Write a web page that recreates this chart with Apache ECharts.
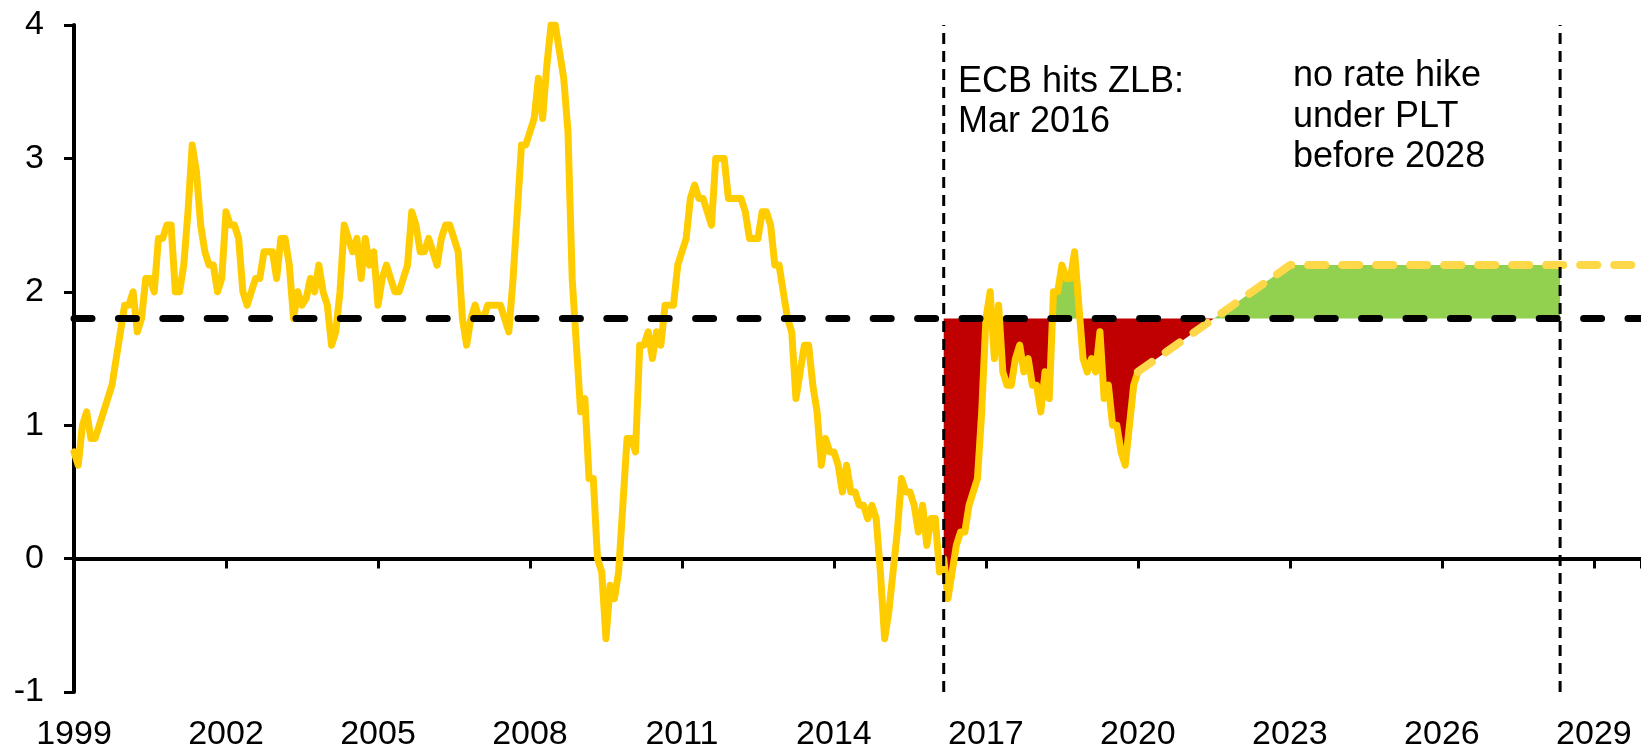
<!DOCTYPE html>
<html>
<head>
<meta charset="utf-8">
<script src="https://cdn.jsdelivr.net/npm/echarts@6/dist/echarts.min.js"></script>
<style>
    html, body { margin: 0; padding: 0; background: #fff; }
    #chart { width: 1641px; height: 749px; }
</style>
</head>
<body>
<div id="chart"></div>
<script>
    // monthly annual inflation, Jan 1999 .. Jan 2020
    var startYear = 1999;
    var inflation = [
        0.8, 0.7, 1.0, 1.1, 0.9, 0.9, 1.0, 1.1, 1.2, 1.3, 1.5, 1.7,     // 1999
        1.9, 1.9, 2.0, 1.7, 1.8, 2.1, 2.1, 2.0, 2.4, 2.4, 2.5, 2.5,     // 2000
        2.0, 2.0, 2.2, 2.6, 3.1, 2.9, 2.5, 2.3, 2.2, 2.2, 2.0, 2.1,     // 2001
        2.6, 2.5, 2.5, 2.4, 2.0, 1.9, 2.0, 2.1, 2.1, 2.3, 2.3, 2.3,     // 2002
        2.1, 2.4, 2.4, 2.2, 1.8, 2.0, 1.9, 1.95, 2.1, 2.0, 2.2, 2.0,    // 2003
        1.9, 1.6, 1.7, 2.0, 2.5, 2.4, 2.3, 2.4, 2.1, 2.4, 2.2, 2.3,     // 2004
        1.9, 2.1, 2.2, 2.1, 2.0, 2.0, 2.1, 2.2, 2.6, 2.5, 2.3, 2.3,     // 2005
        2.4, 2.3, 2.2, 2.4, 2.5, 2.5, 2.4, 2.3, 1.8, 1.6, 1.8, 1.9,     // 2006
        1.8, 1.8, 1.9, 1.9, 1.9, 1.9, 1.8, 1.7, 2.1, 2.6, 3.1, 3.1,     // 2007
        3.2, 3.3, 3.6, 3.3, 3.7, 4.0, 4.0, 3.8, 3.6, 3.2, 2.1, 1.6,     // 2008
        1.1, 1.2, 0.6, 0.6, 0.0, -0.1, -0.6, -0.2, -0.3, -0.1, 0.4, 0.9, // 2009
        0.9, 0.8, 1.6, 1.6, 1.7, 1.5, 1.7, 1.6, 1.9, 1.9, 1.9, 2.2,     // 2010
        2.3, 2.4, 2.7, 2.8, 2.7, 2.7, 2.6, 2.5, 3.0, 3.0, 3.0, 2.7,     // 2011
        2.7, 2.7, 2.7, 2.6, 2.4, 2.4, 2.4, 2.6, 2.6, 2.5, 2.2, 2.2,     // 2012
        2.0, 1.8, 1.7, 1.2, 1.4, 1.6, 1.6, 1.3, 1.1, 0.7, 0.9, 0.8,     // 2013
        0.8, 0.7, 0.5, 0.7, 0.5, 0.5, 0.4, 0.4, 0.3, 0.4, 0.3, -0.1,    // 2014
        -0.6, -0.4, -0.1, 0.2, 0.6, 0.5, 0.5, 0.4, 0.2, 0.4, 0.1, 0.3,  // 2015
        0.3, -0.1, 0.0, -0.3, -0.1, 0.1, 0.2, 0.2, 0.4, 0.5, 0.6, 1.1,  // 2016
        1.8, 2.0, 1.5, 1.9, 1.4, 1.3, 1.3, 1.5, 1.6, 1.4, 1.5, 1.3,     // 2017
        1.3, 1.1, 1.4, 1.2, 2.0, 2.0, 2.2, 2.1, 2.1, 2.3, 1.9, 1.5,     // 2018
        1.4, 1.5, 1.4, 1.7, 1.2, 1.3, 1.0, 1.0, 0.8, 0.7, 1.0, 1.3,     // 2019
        1.4                                                             // 2020
    ];

    // assumed path under price level targeting
    var projYears = [2020.0, 2021.5, 2023.0, 2028 + 4 / 12, 2030.0];
    var projValues = [1.4, 1.8, 2.2, 2.2, 2.2];

    var target = 1.8;
    var zlbDate = 2016 + 2 / 12;     // Mar 2016
    var hikeDate = 2028 + 4 / 12;
    var zlbText = 'ECB hits ZLB:\nMar 2016';
    var hikeText = 'no rate hike\nunder PLT\nbefore 2028';

    var xMin = 1999, xMax = 2029.93, xStep = 3;
    var yMin = -1, yMax = 4, yStep = 1;

    var chart = echarts.init(document.getElementById('chart'));

    var hist = inflation.map(function (v, i) {
        return [startYear + i / 12, v];
    });
    var proj = projYears.map(function (t, i) {
        return [t, projValues[i]];
    });

    // gap to target since the ZLB, history then projection
    var gapPts = hist.filter(function (p) { return p[0] >= zlbDate - 1e-6; })
        .concat(proj.slice(1).filter(function (p) { return p[0] <= hikeDate + 1e-6; }));
    var below = gapPts.map(function (p) { return [p[0], Math.min(p[1], target)]; });
    var above = gapPts.map(function (p) { return [p[0], Math.max(p[1], target)]; });

    var font = '"Liberation Sans", Arial, sans-serif';

    function vline(t) {
        return {
            type: 'line',
            data: [[t, yMin], [t, yMax]],
            symbol: 'none',
            silent: true,
            z: 6,
            lineStyle: { color: '#000', width: 3, type: [11, 7] }
        };
    }

    var option = {
        animation: false,
        grid: { left: 74, right: 0, top: 25, bottom: 57, containLabel: false, outerBoundsMode: 'none' },
        xAxis: [{
            type: 'value',
            min: xMin,
            max: xMax,
            interval: xStep,
            position: 'bottom',
            axisLine: { show: true, onZero: true, lineStyle: { color: '#000', width: 4 } },
            axisTick: { show: true, inside: false, length: 10, lineStyle: { color: '#000', width: 3 } },
            axisLabel: { show: false },
            splitLine: { show: false }
        }, {
            type: 'value',
            min: xMin,
            max: xMax,
            interval: xStep,
            position: 'bottom',
            axisLine: { show: false, onZero: false },
            axisTick: { show: false },
            axisLabel: {
                show: true,
                margin: 26,
                color: '#000',
                fontSize: 34,
                fontFamily: font,
                showMaxLabel: false,
                formatter: function (v) { return String(Math.round(v)); }
            },
            splitLine: { show: false }
        }],
        yAxis: {
            type: 'value',
            min: yMin,
            max: yMax,
            interval: yStep,
            axisLine: { show: true, onZero: false, lineStyle: { color: '#000', width: 4 } },
            axisTick: { show: true, inside: false, length: 10, lineStyle: { color: '#000', width: 3 } },
            axisLabel: { color: '#000', fontSize: 34, fontFamily: font, margin: 30 },
            splitLine: { show: false }
        },
        series: [
            {
                type: 'line',
                data: below,
                symbol: 'none',
                silent: true,
                z: 1,
                lineStyle: { width: 0 },
                areaStyle: { color: '#C00000', opacity: 1, origin: target }
            },
            {
                type: 'line',
                data: above,
                symbol: 'none',
                silent: true,
                z: 1,
                lineStyle: { width: 0 },
                areaStyle: { color: '#92D050', opacity: 1, origin: target }
            },
            {
                type: 'line',
                data: hist,
                symbol: 'none',
                silent: true,
                z: 3,
                lineStyle: { color: '#FFCC00', width: 7, join: 'round', cap: 'round' }
            },
            {
                type: 'line',
                data: proj,
                symbol: 'none',
                silent: true,
                z: 3,
                lineStyle: { color: '#FFD84A', width: 8, type: [17, 17], cap: 'round', join: 'round' }
            },
            {
                type: 'line',
                data: [[xMin, target], [2031, target]],
                symbol: 'none',
                silent: true,
                z: 5,
                lineStyle: { color: '#000', width: 7, type: [18, 26.4], cap: 'round' }
            },
            vline(zlbDate),
            vline(hikeDate)
        ],
        graphic: [{
            type: 'text',
            left: 958,
            top: 62,
            style: { text: zlbText, fontSize: 36, fontFamily: font, lineHeight: 40, fill: '#000' }
        }, {
            type: 'text',
            left: 1293,
            top: 56,
            style: { text: hikeText, fontSize: 36, fontFamily: font, lineHeight: 40.5, fill: '#000' }
        }]
    };

    chart.setOption(option);
    window.addEventListener('resize', function () {
        chart.resize();
    });
</script>
</body>
</html>
